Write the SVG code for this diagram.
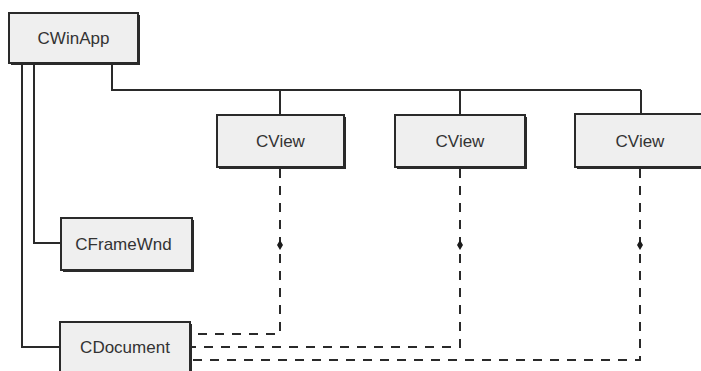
<svg xmlns="http://www.w3.org/2000/svg" width="701" height="371" viewBox="0 0 701 371">
<style>
.box{fill:#efefef;stroke:#2a2a2a;stroke-width:2}
.sh{fill:#2a2a2a}
.lbl{font-family:"Liberation Sans",Arial,sans-serif;font-size:17px;fill:#333;text-anchor:middle}
.ln{fill:none;stroke:#2a2a2a;stroke-width:2}
.dl{fill:none;stroke:#2a2a2a;stroke-width:2;stroke-dasharray:9 8}
.dot{fill:#1a1a1a}
</style>
<rect width="701" height="371" fill="#ffffff"/>
<g id="connectors">
<path class="ln" d="M22 63 V347 H60"/>
<path class="ln" d="M34 63 V243 H61"/>
<path class="ln" d="M112 63 V90 H641"/>
<path class="ln" d="M280 90 V115"/>
<path class="ln" d="M460 90 V115"/>
<path class="ln" d="M641 90 V115"/>
<path class="dl" d="M280 169 V334 H191"/>
<path class="dl" d="M460 169 V347 H191"/>
<path class="dl" d="M640 169 V360 H191"/>
<path class="dot" d="M280 240 L283 245 L280 250 L277 245 Z"/>
<path class="dot" d="M460 240 L463 245 L460 250 L457 245 Z"/>
<path class="dot" d="M640 240 L643 245 L640 250 L637 245 Z"/>
</g>
<g id="cwinapp">
<rect class="sh" x="11" y="15" width="129" height="50"/>
<rect class="box" x="9" y="13" width="129" height="50"/>
<text class="lbl" x="73.5" y="44">CWinApp</text>
</g>
<g id="cview1">
<rect class="sh" x="219" y="117" width="127" height="52"/>
<rect class="box" x="217" y="115" width="127" height="52"/>
<text class="lbl" x="280.5" y="147">CView</text>
</g>
<g id="cview2">
<rect class="sh" x="397" y="117" width="130" height="52"/>
<rect class="box" x="395" y="115" width="130" height="52"/>
<text class="lbl" x="460" y="147">CView</text>
</g>
<g id="cview3">
<rect class="sh" x="577" y="116" width="130" height="53"/>
<rect class="box" x="575" y="114" width="130" height="53"/>
<text class="lbl" x="640" y="147">CView</text>
</g>
<g id="cframewnd">
<rect class="sh" x="63" y="220" width="131" height="52"/>
<rect class="box" x="61" y="218" width="131" height="52"/>
<text class="lbl" x="123.5" y="250">CFrameWnd</text>
</g>
<g id="cdocument">
<rect class="sh" x="62" y="324" width="130" height="52"/>
<rect class="box" x="60" y="322" width="130" height="52"/>
<text class="lbl" x="125" y="353">CDocument</text>
</g>
</svg>
